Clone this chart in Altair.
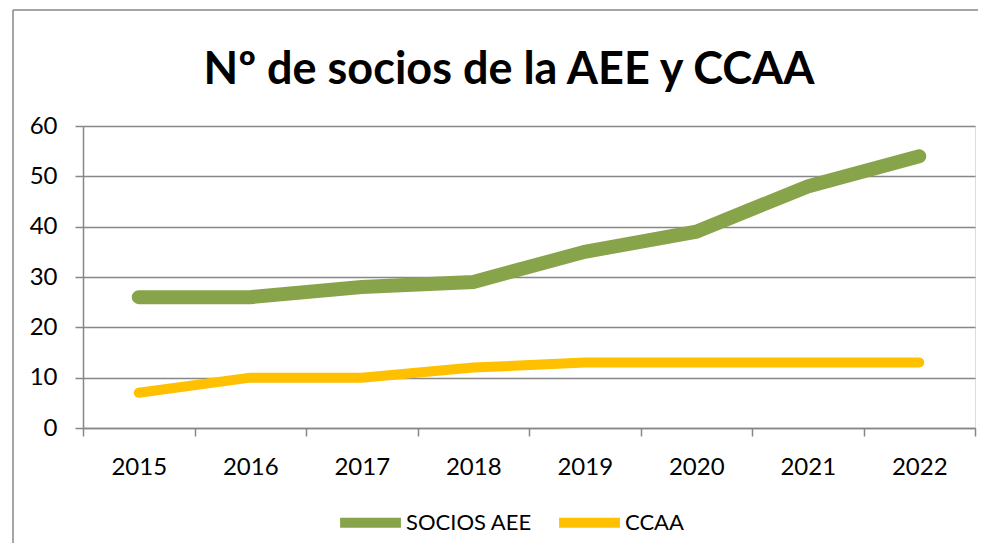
import altair as alt
import pandas as pd

years = ["2015", "2016", "2017", "2018", "2019", "2020", "2021", "2022"]
socios_aee = [26, 26, 28, 29, 35, 39, 48, 54]
ccaa = [7, 10, 10, 12, 13, 13, 13, 13]
series_names = ["SOCIOS AEE", "CCAA"]
series_colors = ["#87A44B", "#FFC000"]
y_ticks = [0, 10, 20, 30, 40, 50, 60]
title_text = ["Nº de socios de la AEE y CCAA"]

rows = []
for name, vals in zip(series_names, [socios_aee, ccaa]):
    for yr, v in zip(years, vals):
        rows.append({"year": yr, "value": v, "series": name})
df = pd.DataFrame(rows)

FONT = "Lato, Calibri, Liberation Sans, sans-serif"
GRAY = "#878787"

x_enc = alt.X(
    "year:O",
    sort=years,
    title=None,
    scale=alt.Scale(type="band", paddingInner=0, paddingOuter=0),
    axis=alt.Axis(
        tickBand="extent",
        grid=False,
        domainColor=GRAY,
        domainWidth=1.5,
        tickColor=GRAY,
        tickWidth=1.5,
        tickSize=8,
        labelPadding=19,
        labelAngle=0,
        labelFont=FONT,
        labelFontSize=24,
        labelColor="#000000",
    ),
)
y_enc = alt.Y(
    "value:Q",
    title=None,
    scale=alt.Scale(domain=[0, 60], nice=False),
    axis=alt.Axis(
        values=y_ticks,
        grid=True,
        gridColor=GRAY,
        gridWidth=1.5,
        domainColor=GRAY,
        domainWidth=1.5,
        tickColor=GRAY,
        tickWidth=1.5,
        tickSize=8,
        labelPadding=18,
        labelFont=FONT,
        labelFontSize=24,
        labelColor="#000000",
    ),
)
color_enc = alt.Color(
    "series:N",
    scale=alt.Scale(domain=series_names, range=series_colors),
    legend=alt.Legend(
        title=None,
        orient="none",
        legendX=252,
        legendY=361,
        direction="horizontal",
        symbolType="stroke",
        symbolSize=3700,
        symbolStrokeWidth=10,
        labelFont=FONT,
        labelFontSize=22,
        labelColor="#000000",
        labelOffset=0,
        columnPadding=7,
    ),
)

base = alt.Chart(df).encode(x=x_enc, y=y_enc, color=color_enc)

green = base.transform_filter(alt.datum.series == "SOCIOS AEE").mark_line(
    strokeWidth=14, strokeCap="round", strokeJoin="miter"
)
yellow = base.transform_filter(alt.datum.series == "CCAA").mark_line(
    strokeWidth=10, strokeCap="round", strokeJoin="miter"
)

frame_df = pd.DataFrame({"k": [0]})
border_top = alt.Chart(frame_df).mark_rule(color=GRAY, strokeWidth=1.5).encode(
    x=alt.value(-70), x2=alt.value(1000), y=alt.value(-116)
)
border_left = alt.Chart(frame_df).mark_rule(color=GRAY, strokeWidth=1.5).encode(
    x=alt.value(-70), y=alt.value(-116), y2=alt.value(600)
)

title = alt.Chart(pd.DataFrame({"t": title_text})).mark_text(
    font=FONT,
    fontSize=45,
    fontWeight="bold",
    color="#000000",
    align="center",
    baseline="alphabetic",
).encode(text="t:N", x=alt.value(426), y=alt.value(-42))

chart = alt.layer(border_top, border_left, title, yellow, green).properties(
    width=892,
    height=302,
    autosize=alt.AutoSizeParams(type="none"),
    padding={"left": 75, "top": 118, "right": 3, "bottom": 115},
).configure_view(stroke=None).configure(background="#ffffff")

chart.save("out.html", embed_options={"renderer": "svg", "actions": False})
